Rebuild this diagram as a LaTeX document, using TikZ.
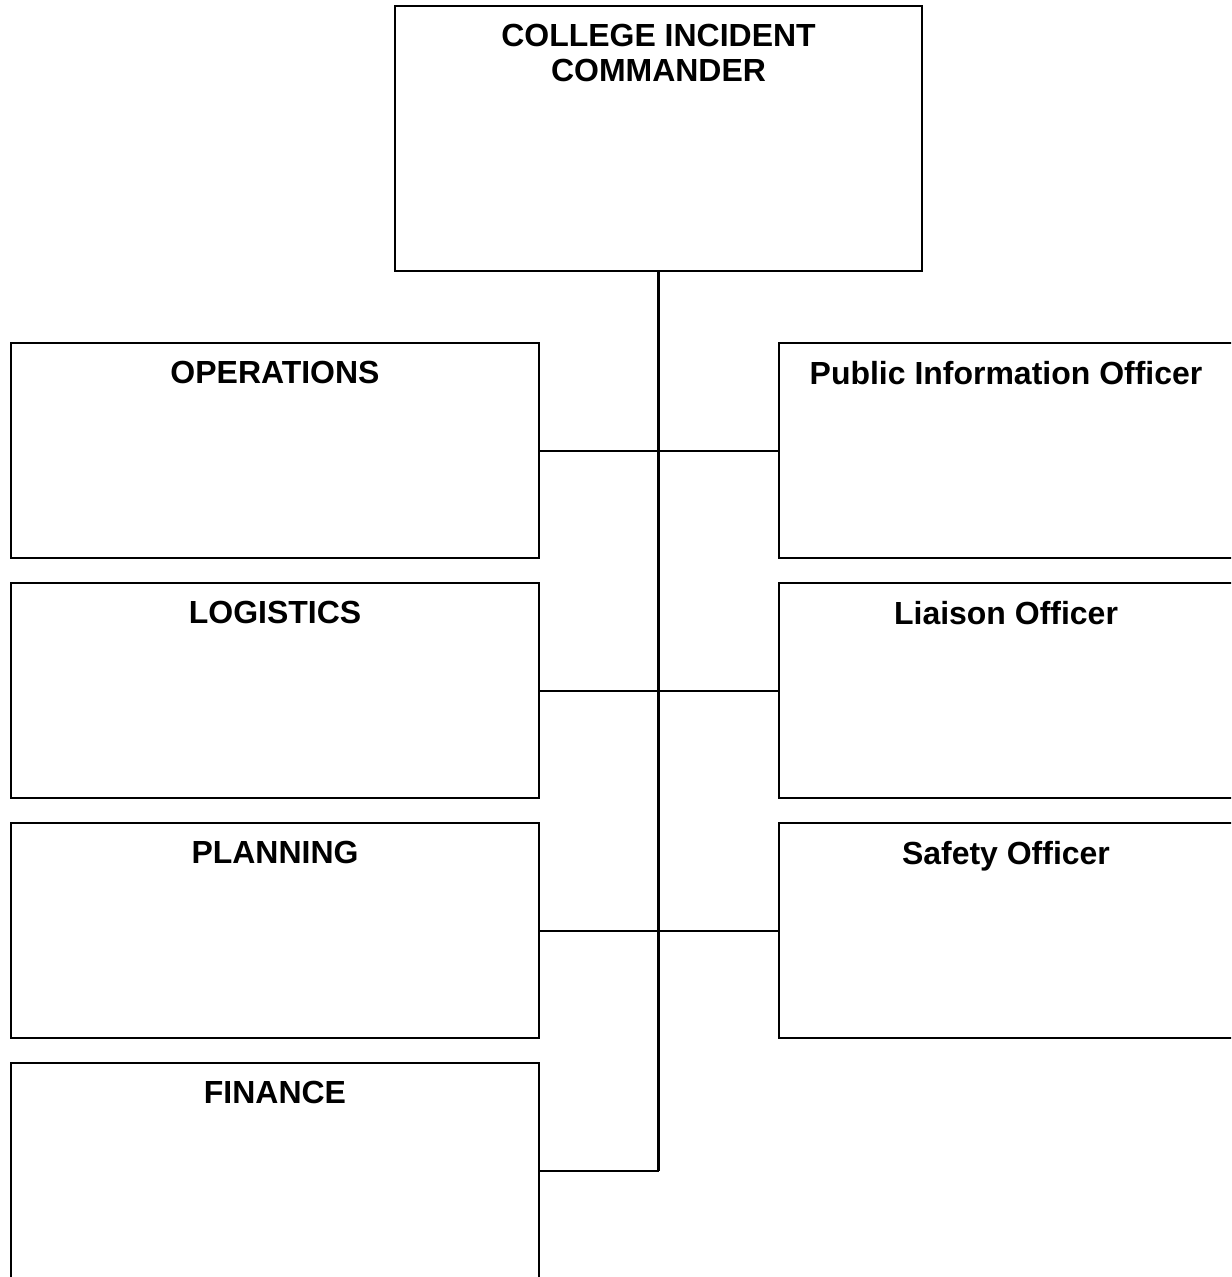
\documentclass[tikz,border=0pt]{standalone}
\usepackage{fontspec}
\setmainfont{Liberation Sans}
\usepackage{tikz}
\usetikzlibrary{calc}

\begin{document}
\begin{tikzpicture}[x=0.02cm,y=-0.02cm,
		unit/.style={draw=black, line width=0.04cm, minimum height=4.3cm, inner sep=0pt},
		leftunit/.style={unit, minimum width=10.56cm},
		rightunit/.style={unit, minimum width=9.08cm},
		title/.style={font=\fontsize{18.2}{19.9}\selectfont\bfseries, align=center, inner sep=0pt, anchor=north, yshift=-0.37cm},
		link/.style={line width=0.04cm}]
		\useasboundingbox (0,0) rectangle (1231,1277);
		\clip (0,0) rectangle (1231,1277);
		
		% top box
		\node[unit, minimum width=10.54cm, minimum height=5.3cm,
			label={[title, name=cmdT]north:COLLEGE INCIDENT\\COMMANDER}] (cmd) at (658.5,138.5) {};
		
		% sections on the left
		\node[leftunit, label={[title, name=opsT]north:OPERATIONS}] (ops) at (275,450.5) {};
		\node[leftunit, label={[title, name=logT]north:LOGISTICS}] (log) at (275,690.5) {};
		\node[leftunit, label={[title, name=planT]north:PLANNING}] (plan) at (275,930.5) {};
		\node[leftunit, label={[title, name=finT]north:FINANCE}] (fin) at (275,1170.5) {};
		
		% officers on the right
		\node[rightunit, label={[title, name=pioT]north:Public Information Officer}] (pio) at (1006,450.5) {};
		\node[rightunit, label={[title, name=liaT]north:Liaison Officer}] (lia) at (1006,690.5) {};
		\node[rightunit, label={[title, name=safT]north:Safety Officer}] (saf) at (1006,930.5) {};
		
		\draw[link] (ops.east) -- (pio.west);
		\draw[link] (log.east) -- (lia.west);
		\draw[link] (plan.east) -- (saf.west);
		
		\draw[line width=0.055cm] (cmd.south) -- (cmd.south |- fin.east);
		\draw[link] (cmd.south |- fin.east) -- (fin.east);
		
\end{tikzpicture}
\end{document}
